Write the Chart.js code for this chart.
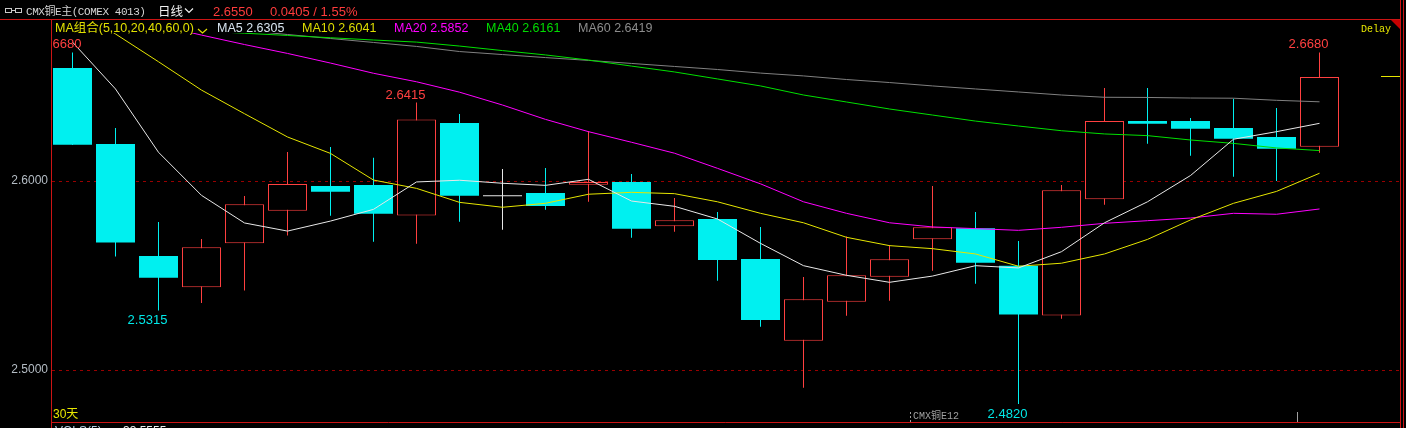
<!DOCTYPE html>
<html>
<head>
<meta charset="utf-8">
<script src="https://cdn.jsdelivr.net/npm/chart.js@4/dist/chart.umd.min.js"></script>
<style>
html,body{margin:0;padding:0;background:#000;overflow:hidden}
#wrap{position:relative;width:1406px;height:428px}
canvas{display:block}
</style>
</head>
<body>
<div id="wrap"><canvas id="c" width="1406" height="428"></canvas></div>
<script>
// ---------------- data ----------------
const dayIndex = [0,1,2,3,4,5,6,7,8,9,10,11,12,13,14,15,16,17,18,19,20,21,22,23,24,25,26,27,28,29];
const openPrices  = [2.6598,2.6196,2.5603,2.5438,2.5670,2.5843,2.5974,2.5979,2.5818,2.6307,2.5919,2.5937,2.5980,2.5995,2.5760,2.5799,2.5587,2.5155,2.5361,2.5494,2.5692,2.5750,2.5552,2.5289,2.5903,2.6317,2.6317,2.6280,2.6233,2.6181];
const highPrices  = [2.6680,2.6280,2.5783,2.5693,2.5921,2.6153,2.6180,2.6123,2.6415,2.6354,2.6063,2.6069,2.6265,2.6037,2.5910,2.5836,2.5757,2.5492,2.5707,2.5661,2.5974,2.5836,2.5683,2.5979,2.6492,2.6492,2.6333,2.6435,2.6386,2.6680];
const lowPrices   = [2.6190,2.5600,2.5315,2.5354,2.5420,2.5711,2.5816,2.5679,2.5668,2.5785,2.5742,2.5848,2.5890,2.5700,2.5732,2.5472,2.5229,2.4906,2.5287,2.5367,2.5525,2.5457,2.4820,2.5271,2.5875,2.6197,2.6134,2.6023,2.6000,2.6150];
const closePrices = [2.6192,2.5674,2.5488,2.5649,2.5877,2.5984,2.5943,2.5827,2.6326,2.5922,2.5919,2.5868,2.5995,2.5748,2.5792,2.5582,2.5265,2.5374,2.5501,2.5586,2.5755,2.5568,2.5293,2.5951,2.6317,2.6303,2.6277,2.6224,2.6171,2.6550];

const ma5  = [2.6735,2.6487,2.6152,2.5924,2.5778,2.5735,2.5788,2.5850,2.5995,2.6004,2.5988,2.5977,2.6009,2.5894,2.5866,2.5799,2.5670,2.5552,2.5501,2.5464,2.5497,2.5552,2.5540,2.5626,2.5779,2.5890,2.6029,2.6221,2.6261,2.6305];
const ma10 = [2.6920,2.6778,2.6631,2.6481,2.6356,2.6233,2.6146,2.6005,2.5961,2.5887,2.5861,2.5882,2.5930,2.5940,2.5933,2.5890,2.5829,2.5779,2.5702,2.5658,2.5642,2.5614,2.5549,2.5565,2.5614,2.5691,2.5794,2.5882,2.5945,2.6041];
const ma20 = [2.6950,2.6890,2.6825,2.6772,2.6722,2.6675,2.6624,2.6570,2.6525,2.6470,2.6402,2.6326,2.6261,2.6205,2.6147,2.6067,2.5985,2.5890,2.5829,2.5779,2.5757,2.5748,2.5739,2.5755,2.5776,2.5790,2.5804,2.5829,2.5824,2.5852];
const ma40 = [2.6831,2.6819,2.6806,2.6794,2.6782,2.6770,2.6758,2.6746,2.6735,2.6714,2.6690,2.6667,2.6640,2.6608,2.6577,2.6540,2.6503,2.6455,2.6418,2.6381,2.6349,2.6317,2.6291,2.6266,2.6249,2.6240,2.6217,2.6199,2.6175,2.6161];
const ma60 = [2.6884,2.6862,2.6840,2.6819,2.6797,2.6775,2.6754,2.6733,2.6712,2.6685,2.6669,2.6653,2.6638,2.6622,2.6606,2.6590,2.6571,2.6556,2.6537,2.6521,2.6503,2.6487,2.6471,2.6455,2.6443,2.6442,2.6439,2.6438,2.6427,2.6419];

const yTickValues = [2.5, 2.6];
const maNames = ['MA5','MA10','MA20','MA40','MA60'];
const legendTitle = 'MA组合(5,10,20,40,60,0)';
const instrumentTitle = 'CMX铜E主(COMEX 4013)';
const periodTitle = '日线';
const lastPrice = 2.6550;
const priceChange = '0.0405 / 1.55%';
const rangeLabel = '30天';
const contractLabel = 'CMX铜E12';
const contractSwitchAt = [19.5, 28.5];

// ---------------- style ----------------
const RED = '#ff4040', CYAN = '#00f0f0', DOJI = '#e8e8e8';
const FRAME = '#cc1414';
const MA_COLORS = ['#e8e8e8', '#e6e600', '#ff00ff', '#00e000', '#808080'];
const MA_TEXT = ['#d8e4f0', '#dede00', '#ff00ff', '#00dc00', '#8c8c8c'];
const SANS = '"Liberation Sans", Arial, "Noto Sans CJK SC", sans-serif';
const MONO = '"Liberation Mono", "DejaVu Sans Mono", "Noto Sans CJK SC", monospace';

const isUp = i => closePrices[i] > openPrices[i];
const isFlat = i => closePrices[i] === openPrices[i];
const candleColor = i => isFlat(i) ? DOJI : (isUp(i) ? RED : CYAN);

const maSeries = [ma5, ma10, ma20, ma40, ma60];
const lineSets = maSeries.map((s, k) => ({
  type: 'line',
  label: maNames[k],
  order: 0,
  data: dayIndex.map((d, i) => ({x: d, y: s[i]})),
  borderColor: MA_COLORS[k],
  borderWidth: 1,
  pointRadius: 0,
  tension: 0,
  fill: false
}));

const bodySet = {
  type: 'bar', label: 'body', order: 1, grouped: false,
  barThickness: 39, minBarLength: 1, inflateAmount: 0, borderSkipped: false,
  data: dayIndex.map((d, i) => ({x: d, y: [openPrices[i], closePrices[i]]})),
  backgroundColor: ctx => ctx.dataIndex === undefined ? CYAN : (isUp(ctx.dataIndex) ? '#000000' : candleColor(ctx.dataIndex)),
  borderColor: ctx => ctx.dataIndex === undefined ? CYAN : candleColor(ctx.dataIndex),
  borderWidth: ctx => (ctx.dataIndex !== undefined && isUp(ctx.dataIndex)) ? 1 : 0
};
const wickSet = {
  type: 'bar', label: 'wick', order: 2, grouped: false,
  barThickness: 1, inflateAmount: 0, borderWidth: 0,
  data: dayIndex.map((d, i) => ({x: d, y: [lowPrices[i], highPrices[i]]})),
  backgroundColor: ctx => ctx.dataIndex === undefined ? CYAN : candleColor(ctx.dataIndex)
};

// extreme price marks drawn as labels
const extremeMarks = [
  {index: 0, kind: 'high'}, {index: 8, kind: 'high'}, {index: 29, kind: 'high'},
  {index: 2, kind: 'low'}, {index: 22, kind: 'low'}
];

const decor = {
  id: 'decor',
  beforeDraw(chart) {
    const c = chart.ctx;
    c.save(); c.fillStyle = '#000'; c.fillRect(0, 0, chart.width, chart.height); c.restore();
  },
  afterDatasetsDraw(chart) {
    const c = chart.ctx, xs = chart.scales.x, ys = chart.scales.y, a = chart.chartArea;
    c.save();
    c.beginPath(); c.rect(a.left, a.top - 14, a.right - a.left, a.bottom - a.top + 14); c.clip();
    c.font = '13px ' + SANS; c.textAlign = 'center'; c.textBaseline = 'alphabetic';
    extremeMarks.forEach(m => {
      const x = xs.getPixelForValue(dayIndex[m.index]) - 11;
      if (m.kind === 'high') {
        c.fillStyle = RED;
        c.fillText(highPrices[m.index].toFixed(4), x, ys.getPixelForValue(highPrices[m.index]) - 4);
      } else {
        c.fillStyle = '#00e8e8';
        c.fillText(lowPrices[m.index].toFixed(4), x, ys.getPixelForValue(lowPrices[m.index]) + 13.5);
      }
    });
    c.restore();

    c.save();
    // current price marker
    const py = Math.round(ys.getPixelForValue(lastPrice)) - 0.5;
    c.strokeStyle = '#e6e600'; c.lineWidth = 1;
    c.beginPath(); c.moveTo(1381, py); c.lineTo(a.right, py); c.stroke();
    // contract switch markers
    c.strokeStyle = '#a0a0a0';
    contractSwitchAt.forEach((v, k) => {
      const x = Math.round(xs.getPixelForValue(v)) - 0.5;
      c.setLineDash(k === 0 ? [2, 2] : []);
      c.beginPath(); c.moveTo(x, 412); c.lineTo(x, 422); c.stroke();
    });
    c.setLineDash([]);
    c.font = '10px ' + MONO; c.fillStyle = '#a0a0a0'; c.textAlign = 'left';
    c.fillText(contractLabel, 913, 419);
    c.font = '12px ' + SANS; c.fillStyle = '#e6e600';
    c.fillText(rangeLabel, 53, 418);
    c.restore();
  },
  afterDraw(chart) {
    const c = chart.ctx;
    c.save();
    // frame
    c.strokeStyle = FRAME; c.lineWidth = 1;
    c.beginPath();
    c.moveTo(0, 19.5); c.lineTo(1400, 19.5);
    c.moveTo(51.5, 19); c.lineTo(51.5, 428);
    c.moveTo(51.5, 422.5); c.lineTo(1400, 422.5);
    c.moveTo(1400.5, 0); c.lineTo(1400.5, 428);
    c.moveTo(1403.5, 0); c.lineTo(1403.5, 428);
    c.stroke();
    // delay triangle
    c.fillStyle = '#c80000';
    c.beginPath(); c.moveTo(1391, 20); c.lineTo(1400, 20); c.lineTo(1400, 29); c.closePath(); c.fill();
    c.font = '10px ' + MONO; c.fillStyle = '#e6e600'; c.textAlign = 'left'; c.textBaseline = 'alphabetic';
    c.fillText('Delay', 1361, 32);

    // header row
    c.strokeStyle = '#c8c8c8';
    c.strokeRect(5.5, 8.5, 6, 4); c.strokeRect(15.5, 8.5, 6, 4);
    c.beginPath(); c.moveTo(11.5, 10.5); c.lineTo(15.5, 10.5); c.stroke();
    c.font = '11px ' + MONO; c.fillStyle = '#d4d4d4';
    try { c.letterSpacing = '-0.45px'; } catch (e) {}
    c.fillText(instrumentTitle, 26, 14.5);
    try { c.letterSpacing = '0px'; } catch (e) {}
    c.font = '12.5px "Noto Sans CJK SC", sans-serif'; c.fillStyle = '#f0f0f0';
    c.fillText(periodTitle, 158, 15.5);
    c.strokeStyle = '#f0f0f0'; c.lineWidth = 1.2;
    c.beginPath(); c.moveTo(185, 8.5); c.lineTo(189, 12.5); c.lineTo(193, 8.5); c.stroke();
    c.font = '13px ' + SANS; c.fillStyle = '#ff3c3c';
    c.fillText(lastPrice.toFixed(4), 213, 15.5);
    c.fillText(priceChange, 270, 15.5);

    // legend row
    c.font = '12.5px ' + SANS; c.fillStyle = '#e0e000';
    c.fillText(legendTitle, 55, 32);
    c.strokeStyle = '#e0e000'; c.lineWidth = 1.2;
    c.beginPath(); c.moveTo(198, 29); c.lineTo(202.5, 33); c.lineTo(207, 29); c.stroke();
    const lx = [217, 302, 394, 486, 578];
    maSeries.forEach((s, k) => {
      c.fillStyle = MA_TEXT[k];
      c.fillText(maNames[k] + ' ' + s[s.length - 1].toFixed(4), lx[k], 32);
    });

    // partially visible next panel header
    c.font = '12px ' + SANS;
    c.fillStyle = '#b8cce0'; c.fillText('VOLS(5)', 55, 434.5);
    c.fillStyle = '#f0f0f0'; c.fillText('33.5555', 123, 434.5);
    c.restore();
  }
};

new Chart(document.getElementById('c'), {
  type: 'bar',
  data: { datasets: [...lineSets, bodySet, wickSet] },
  options: {
    responsive: false,
    devicePixelRatio: 1,
    animation: false,
    events: [],
    layout: { padding: { left: 0, right: 6, top: 33, bottom: 6 } },
    plugins: { legend: { display: false }, tooltip: { enabled: false } },
    scales: {
      x: { type: 'linear', display: false, offset: false, min: -0.47674, max: 30.87209 },
      y: {
        type: 'linear', position: 'left', beginAtZero: false,
        min: 2.472487, max: 2.678307,
        afterFit(scale) { scale.width = 52; scale.paddingTop = 0; scale.paddingBottom = 0; },
        afterBuildTicks(scale) { scale.ticks = yTickValues.map(v => ({value: v})); },
        ticks: {
          color: '#b4bcc4', padding: 4,
          font: { family: '"Liberation Sans", Arial, sans-serif', size: 12 },
          callback: v => Number(v).toFixed(4)
        },
        grid: { color: '#990000', lineWidth: 1, drawTicks: false },
        border: { display: false, dash: [3, 4] }
      }
    }
  },
  plugins: [decor]
});
</script>
</body>
</html>
